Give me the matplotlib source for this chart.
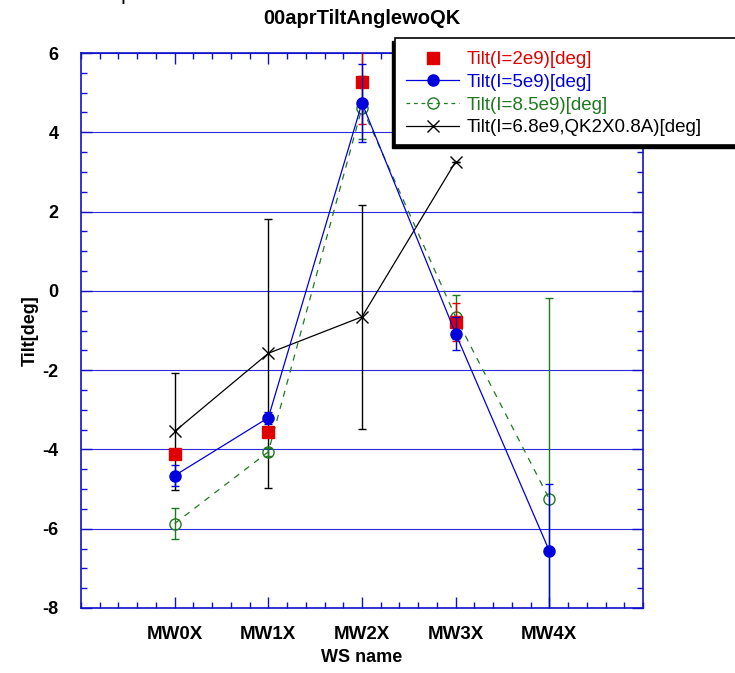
import matplotlib
matplotlib.use('Agg')
import matplotlib.pyplot as plt
from matplotlib.patches import Rectangle
from matplotlib.lines import Line2D
from matplotlib.ticker import MultipleLocator
import numpy as np

plt.rcParams['font.family'] = ['Liberation Sans', 'DejaVu Sans']

categories = ['MW0X', 'MW1X', 'MW2X', 'MW3X', 'MW4X']
title = '00aprTiltAnglewoQK'

tilt_2e9 = [-4.11, -3.56, 5.27, -0.78]
tilt_2e9_err = [0.10, 0.08, 1.06, 0.48]
tilt_5e9 = [-4.66, -3.20, 4.74, -1.08, -6.56]
tilt_5e9_err = [0.27, 0.15, 0.99, 0.41, 1.69]
tilt_8p5e9 = [-5.87, -4.06, 4.62, -0.66, -5.25]
tilt_8p5e9_err = [0.40, 0.10, 0.79, 0.56, 5.07]
tilt_6p8e9 = [-3.545, -1.575, -0.655, 3.26]
tilt_6p8e9_err = [1.47, 3.39, 2.83, 0.0]

labels = ['Tilt(I=2e9)[deg]', 'Tilt(I=5e9)[deg]', 'Tilt(I=8.5e9)[deg]',
          'Tilt(I=6.8e9,QK2X0.8A)[deg]']

RED = '#e00000'
BLUE = '#0000dd'
GREEN = '#1f7a1f'
BLACK = '#000000'
AXBLUE = '#1010cc'

W, H = 735, 673
fig = plt.figure(figsize=(W / 100, H / 100), dpi=100)
ax = fig.add_axes([81 / W, 1 - 608 / H, (643 - 81) / W, (608 - 53) / H])

x_all = np.arange(len(categories))

ax.errorbar(x_all[:len(tilt_2e9)], tilt_2e9, yerr=tilt_2e9_err, fmt='s', ms=8,
            color=RED, ecolor=RED, elinewidth=1, capsize=3, linestyle='none', zorder=4)
ax.errorbar(x_all[:len(tilt_5e9)], tilt_5e9, yerr=tilt_5e9_err, fmt='o-', ms=8,
            color=BLUE, ecolor=BLUE, lw=0.9, elinewidth=1, capsize=3, zorder=5)
ax.errorbar(x_all[:len(tilt_8p5e9)], tilt_8p5e9, yerr=tilt_8p5e9_err, fmt='o', ms=8,
            color=GREEN, ecolor=GREEN, mfc='none', linestyle=(0, (5, 5)), lw=0.9,
            elinewidth=1, capsize=3, zorder=3)
ax.errorbar(x_all[:len(tilt_6p8e9)], tilt_6p8e9, yerr=tilt_6p8e9_err, fmt='x-', ms=9,
            color=BLACK, ecolor=BLACK, lw=0.9, elinewidth=1, capsize=3, zorder=2)

ax.set_xlim(-1, 5)
ax.set_ylim(-8, 6)
ax.set_xticks(x_all)
ax.set_xticklabels(categories, fontsize=13.5, fontweight='bold')
ax.set_yticks(np.arange(-8, 7, 2))
ax.set_yticklabels([str(v) for v in range(-8, 7, 2)], fontsize=13, fontweight='bold')
ax.xaxis.set_minor_locator(MultipleLocator(0.2))
ax.yaxis.set_minor_locator(MultipleLocator(0.5))
ax.tick_params(which='both', direction='in', top=True, right=True, color=AXBLUE,
               labelcolor='black')
ax.tick_params(which='major', length=8, width=1, pad=13)
ax.tick_params(which='minor', length=4, width=1)
ax.tick_params(axis='y', which='major', pad=16)
for s in ax.spines.values():
    s.set_color(AXBLUE)
    s.set_linewidth(1.2)
ax.yaxis.grid(True, color='#2a2ae0', lw=0.8)
ax.set_axisbelow(True)

ax.set_xlabel('WS name', fontsize=13, fontweight='bold', labelpad=4)
ax.set_ylabel('Tilt[deg]', fontsize=13, fontweight='bold', labelpad=3)
fig.text(362 / W, 1 - 18 / H, title, ha='center', va='center', fontsize=14.5,
         fontweight='bold')
fig.text(127 / W, 1 + 1.5 / H, 'p', ha='center', va='baseline', fontsize=16)

# legend box with shadow
shadow = Rectangle((392 / W, 1 - 148 / H), 360 / W, (148 - 41) / H,
                   transform=fig.transFigure, facecolor='black', edgecolor='black',
                   zorder=8)
box = Rectangle((395 / W, 1 - 145 / H), 360 / W, (145 - 38) / H,
                transform=fig.transFigure, facecolor='white', edgecolor='black',
                lw=1.2, zorder=9)
fig.add_artist(shadow)
fig.add_artist(box)

handles = [
    Line2D([], [], color=RED, marker='s', ms=8, linestyle='none'),
    Line2D([], [], color=BLUE, marker='o', ms=8, lw=0.9),
    Line2D([], [], color=GREEN, marker='o', ms=8, mfc='none', lw=0.9,
           linestyle=(0, (3, 3))),
    Line2D([], [], color=BLACK, marker='x', ms=9, lw=0.9),
]
leg = fig.legend(handles, labels, loc='upper left',
                 bbox_to_anchor=(406 / W, 1 - 51 / H), bbox_transform=fig.transFigure,
                 frameon=False, fontsize=13.5, handlelength=2.85, handletextpad=0.37,
                 labelspacing=0.3, borderpad=0, borderaxespad=0,
                 labelcolor=[RED, BLUE, GREEN, BLACK])
leg.set_zorder(10)

fig.savefig('out.png', dpi=100)
